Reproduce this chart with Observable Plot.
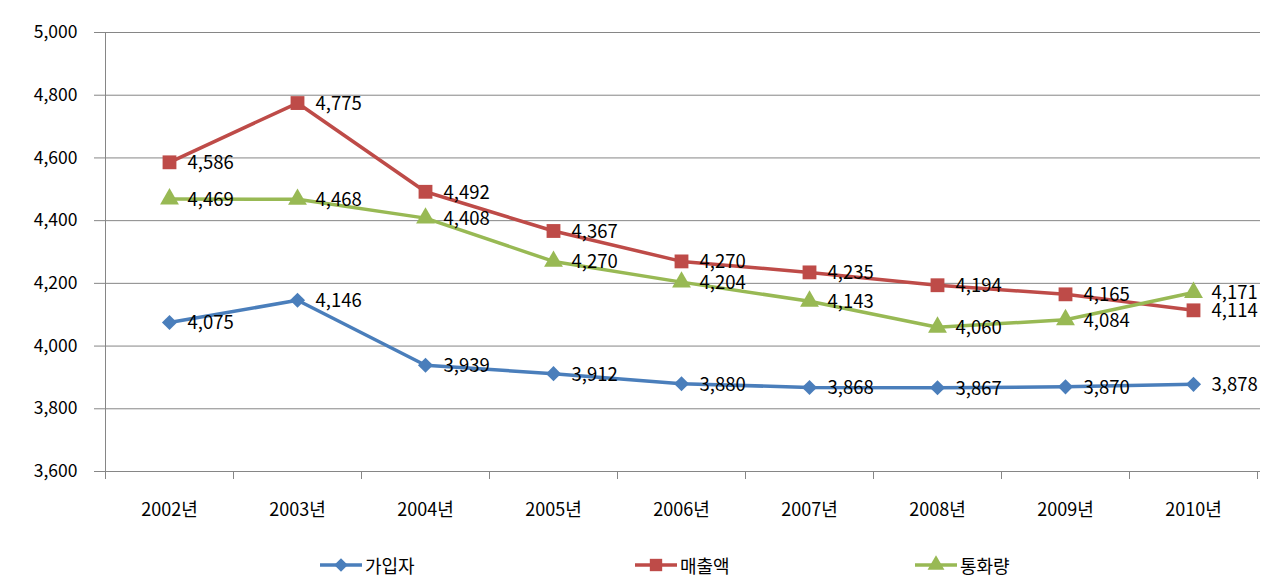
<!DOCTYPE html>
<html>
<head>
<meta charset="utf-8">
<script src="https://cdn.jsdelivr.net/npm/d3@7"></script>
<script src="https://cdn.jsdelivr.net/npm/@observablehq/plot@0.6"></script>
<style>
  html, body { margin: 0; padding: 0; background: #fff; }
  body { font-family: "Noto Sans CJK KR", "Noto Sans", sans-serif; width: 1284px; height: 587px; overflow: hidden; }
  #legend { position: relative; height: 47px; width: 1284px; }
  .item { position: absolute; top: 12px; display: flex; align-items: center; font-size: 18px; color: #000; }
  .item svg { margin-right: 3px; }
</style>
</head>
<body>
<div id="chart"></div>
<div id="legend"></div>
<script>
const years = ["2002년", "2003년", "2004년", "2005년", "2006년", "2007년", "2008년", "2009년", "2010년"];
const subscribers = [4075, 4146, 3939, 3912, 3880, 3868, 3867, 3870, 3878];
const revenue = [4586, 4775, 4492, 4367, 4270, 4235, 4194, 4165, 4114];
const traffic = [4469, 4468, 4408, 4270, 4204, 4143, 4060, 4084, 4171];
const seriesNames = ["가입자", "매출액", "통화량"];
const seriesColors = ["#4a7ebb", "#be4b48", "#98b954"];
const yTicks = [3600, 3800, 4000, 4200, 4400, 4600, 4800, 5000];

const seriesValues = [subscribers, revenue, traffic];
const rows = seriesValues.flatMap((vals, si) =>
  vals.map((v, i) => ({series: seriesNames[si], year: years[i], value: v}))
);
const fmt = d3.format(",");
const font = '"Noto Sans CJK KR", "Noto Sans", sans-serif';

const dotOpts = [
  {symbol: "diamond2", r: 6.8},
  {symbol: "square", r: 7.8},
  {symbol: "triangle", r: 7}
];

const chart = Plot.plot({
  width: 1284,
  height: 540,
  marginTop: 32,
  marginBottom: 69,
  marginLeft: 101,
  marginRight: 24,
  style: {fontFamily: font, fontSize: "17px", color: "#000", background: "#fff"},
  x: {type: "point", domain: years, padding: 0.5, label: null},
  y: {domain: [3600, 5000], label: null},
  color: {domain: seriesNames, range: seriesColors},
  marks: [
    Plot.gridY(yTicks, {stroke: "#868686", strokeOpacity: 1, strokeWidth: 1}),
    Plot.axisY(yTicks, {tickFormat: fmt, tickSize: 7, tickPadding: 17, stroke: "#868686", fill: "#000", fontSize: 17.5, label: null}),
    Plot.axisX({tickSize: 0, tickPadding: 32, fontSize: 18, fill: "#000", label: null}),
    Plot.line(rows, {x: "year", y: "value", z: "series", stroke: "series", strokeWidth: 3.5}),
    ...seriesNames.map((s, si) =>
      Plot.dot(rows.filter(d => d.series === s), {
        x: "year", y: "value", fill: seriesColors[si], stroke: "none",
        symbol: dotOpts[si].symbol, r: dotOpts[si].r
      })
    ),
    Plot.text(rows, {x: "year", y: "value", text: d => fmt(d.value), dx: 18, dy: 1, textAnchor: "start", fontSize: 18.5, fill: "#000"})
  ]
});
document.getElementById("chart").appendChild(chart);

// y-axis line and x boundary ticks from scales
const xs = chart.scale("x");
const ys = chart.scale("y");
const svg = d3.select(chart);
const step = xs.step ?? ((xs.range[1] - xs.range[0]) / years.length);
const x0 = xs.apply(years[0]) - step / 2;
const yTop = ys.apply(5000), yBot = ys.apply(3600);
const g = svg.append("g").attr("stroke", "#868686").attr("stroke-width", 1);
g.append("line").attr("x1", Math.round(x0) + 0.5).attr("x2", Math.round(x0) + 0.5).attr("y1", yTop).attr("y2", yBot + 8);
years.forEach((y, i) => {
  const bx = Math.round(xs.apply(y) + step / 2) + 0.5;
  g.append("line").attr("x1", bx).attr("x2", bx).attr("y1", yBot).attr("y2", yBot + 8);
});

// legend
const legendLeft = [320, 635, 915];
const legend = d3.select("#legend");
seriesNames.forEach((s, si) => {
  const item = legend.append("div").attr("class", "item").style("left", legendLeft[si] + "px");
  const sv = item.append("svg").attr("width", 42).attr("height", 20);
  sv.append("line").attr("x1", 0).attr("x2", 42).attr("y1", 10).attr("y2", 10)
    .attr("stroke", seriesColors[si]).attr("stroke-width", 3.5);
  const sym = {diamond2: d3.symbolDiamond2, square: d3.symbolSquare, triangle: d3.symbolTriangle}[dotOpts[si].symbol];
  sv.append("path").attr("transform", "translate(21,10)")
    .attr("d", d3.symbol(sym, Math.PI * dotOpts[si].r * dotOpts[si].r * 0.8)())
    .attr("fill", seriesColors[si]);
  item.append("span").text(s);
});
</script>
</body>
</html>
